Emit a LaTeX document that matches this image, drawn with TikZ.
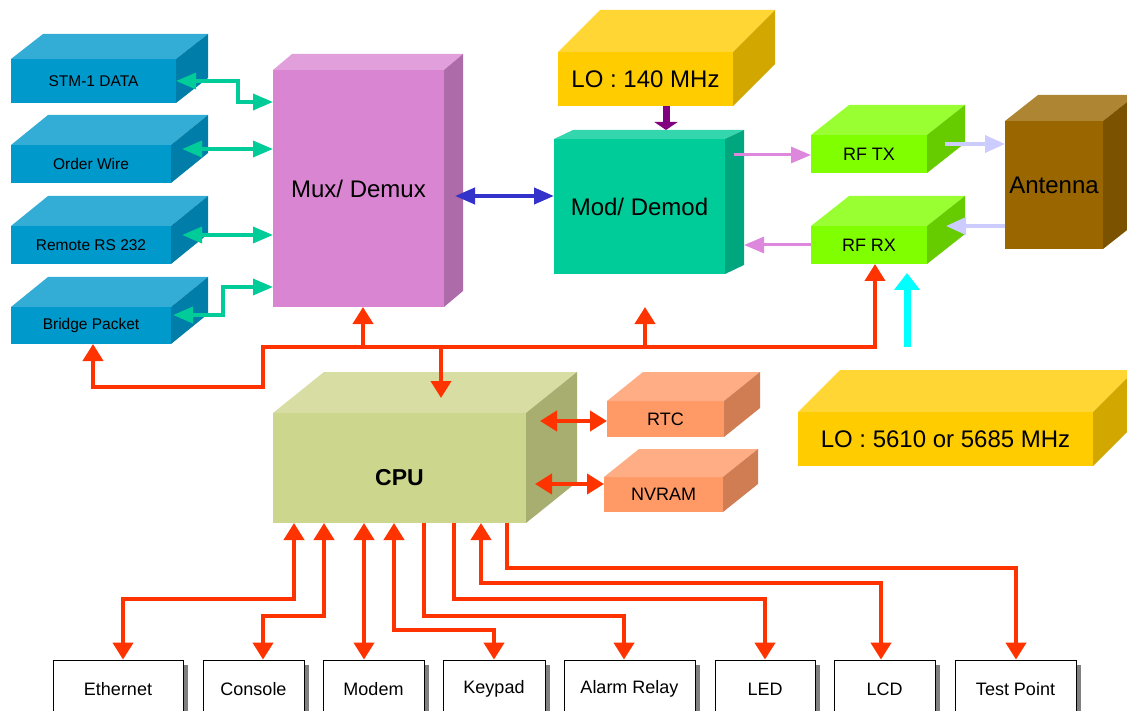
\documentclass[tikz,border=0pt]{standalone}
\usepackage{fontspec}
\setmainfont{Liberation Sans}
\usetikzlibrary{arrows.meta,calc,shadows}

\definecolor{bluefront}{HTML}{0099CC}
\definecolor{bluetop}{HTML}{33ADD6}
\definecolor{blueside}{HTML}{007DA8}
\definecolor{muxfront}{HTML}{D985D1}
\definecolor{muxtop}{HTML}{E1A0DB}
\definecolor{muxside}{HTML}{AD6BAA}
\definecolor{modfront}{HTML}{00CC99}
\definecolor{modtop}{HTML}{33D6AD}
\definecolor{modside}{HTML}{00A67D}
\definecolor{lofront}{HTML}{FFCC00}
\definecolor{lotop}{HTML}{FFD633}
\definecolor{loside}{HTML}{D1A700}
\definecolor{rffront}{HTML}{80FF00}
\definecolor{rftop}{HTML}{99FF33}
\definecolor{rfside}{HTML}{66CC00}
\definecolor{antfront}{HTML}{996600}
\definecolor{anttop}{HTML}{AD8533}
\definecolor{antside}{HTML}{7A5200}
\definecolor{cpufront}{HTML}{CCD68C}
\definecolor{cputop}{HTML}{D7DDA3}
\definecolor{cpuside}{HTML}{A8AD70}
\definecolor{memfront}{HTML}{FF9966}
\definecolor{memtop}{HTML}{FFAD85}
\definecolor{memside}{HTML}{D17D54}
\definecolor{busred}{HTML}{FF3300}
\definecolor{linkgreen}{HTML}{00CC99}
\definecolor{linkblue}{HTML}{3333CC}
\definecolor{ifpink}{HTML}{DD88DD}
\definecolor{rflav}{HTML}{CCCCFF}
\definecolor{lopurple}{HTML}{800080}
\definecolor{locyan}{HTML}{00FFFF}

% top and right faces of a block
\newcommand{\boxsides}[4]{%
  \fill[#3] (#1.north west) -- ++(#2) -- ($(#1.north east)+(#2)$) -- (#1.north east) -- cycle;
  \fill[#4] (#1.north east) -- ++(#2) -- ($(#1.south east)+(#2)$) -- (#1.south east) -- cycle;}

\tikzset{
  block/.style={rectangle,inner sep=0pt,outer sep=0pt},
  txtsmall/.style={font=\fontsize{15.5}{18}\selectfont},
  txtmid/.style={font=\fontsize{18}{22}\selectfont},
  txtbig/.style={font=\fontsize{24}{28}\selectfont},
  device/.style={rectangle,draw=black,line width=0.8pt,fill=white,minimum height=58pt,inner sep=0pt,txtmid,
    drop shadow={shadow xshift=5pt,shadow yshift=-5pt,fill=black!50,opacity=1}},
  redline/.style={draw=busred,line width=4pt,>={Triangle[width=20pt,length=17pt]}},
  greenline/.style={draw=linkgreen,line width=3.5pt,>={Triangle[width=16pt,length=20pt]}},
  blueline/.style={draw=linkblue,line width=4pt,>={Triangle[width=16pt,length=20pt]}},
  pinkline/.style={draw=ifpink,line width=3pt,>={Triangle[width=16pt,length=20pt]}},
  lavline/.style={draw=rflav,line width=3.5pt,>={Triangle[width=17pt,length=20pt]}},
}

\begin{document}
\begin{tikzpicture}[x=1pt,y=-1pt]
\useasboundingbox (0,0) rectangle (1127,711);
\clip (0,0) rectangle (1127,711);

% interfaces
\node[block,txtsmall,fill=bluefront,minimum width=165pt,minimum height=44pt] (STM) at (93.5,81) {STM-1 DATA};
\boxsides{STM}{32,-25}{bluetop}{blueside}
\node[block,txtsmall,fill=bluefront,minimum width=160pt,minimum height=38pt] (OW) at (91,164) {Order Wire};
\boxsides{OW}{37,-30}{bluetop}{blueside}
\node[block,txtsmall,fill=bluefront,minimum width=160pt,minimum height=38pt] (RS) at (91,245) {Remote RS 232};
\boxsides{RS}{37,-30}{bluetop}{blueside}
\node[block,txtsmall,fill=bluefront,minimum width=160pt,minimum height=37pt] (BP) at (91,325.5) {Bridge Packet};
\boxsides{BP}{37,-30}{bluetop}{blueside}

% radio chain
\node[block,txtbig,fill=muxfront,minimum width=171pt,minimum height=237pt] (MUX) at (358.5,188.5) {Mux/ Demux};
\boxsides{MUX}{19,-16}{muxtop}{muxside}
\node[block,txtbig,fill=lofront,minimum width=175pt,minimum height=54pt] (LOA) at (645.5,79) {LO : 140 MHz};
\boxsides{LOA}{42,-42}{lotop}{loside}
\node[block,txtbig,fill=modfront,minimum width=171pt,minimum height=135pt] (MOD) at (639.5,206.5) {Mod/ Demod};
\boxsides{MOD}{19,-9}{modtop}{modside}
\node[block,txtmid,fill=rffront,minimum width=116pt,minimum height=38pt] (TX) at (869,154) {RF TX};
\boxsides{TX}{38,-30}{rftop}{rfside}
\node[block,txtmid,fill=rffront,minimum width=116pt,minimum height=38pt] (RX) at (869,245) {RF RX};
\boxsides{RX}{38,-30}{rftop}{rfside}
\node[block,txtbig,fill=antfront,minimum width=98pt,minimum height=128pt] (ANT) at (1054,185) {Antenna};
\boxsides{ANT}{33,-26}{anttop}{antside}
\node[block,txtbig,fill=lofront,minimum width=295pt,minimum height=54pt] (LOB) at (945.5,439) {LO : 5610 or 5685 MHz};
\boxsides{LOB}{42,-42}{lotop}{loside}

% controller
\node[block,font=\fontsize{23}{28}\selectfont\bfseries,text height=36pt,fill=cpufront,minimum width=253pt,minimum height=110pt] (CPU) at (399.5,468) {CPU};
\boxsides{CPU}{51,-41}{cputop}{cpuside}
\node[block,txtmid,fill=memfront,minimum width=117pt,minimum height=36pt] (RTC) at (665.5,419) {RTC};
\boxsides{RTC}{36,-29}{memtop}{memside}
\node[block,txtmid,fill=memfront,minimum width=119pt,minimum height=35pt] (NV) at (663.5,494.5) {NVRAM};
\boxsides{NV}{35,-28}{memtop}{memside}

% peripherals
\node[device,minimum width=130pt] (ETH) at (118,689) {Ethernet};
\node[device,minimum width=101pt] (CON) at (253.5,689) {Console};
\node[device,minimum width=101pt] (MDM) at (373.5,689) {Modem};
\node[device,minimum width=102pt] (KEY) at (494,689) {Keypad};
\node[device,minimum width=131pt] (ALR) at (629.5,689) {Alarm Relay};
\node[device,minimum width=100pt] (LED) at (765,689) {LED};
\node[device,minimum width=101pt] (LCD) at (884.5,689) {LCD};
\node[device,minimum width=121pt] (TP) at (1015.5,689) {Test Point};

\coordinate (BUS) at (0,347);
\coordinate (MODIN) at (645,307);
\coordinate (CPUIN) at (441,398);
\coordinate (LOOUT) at (907,347);
\coordinate (RXIN) at (907,273);

% data links
\draw[greenline,<->] (STM.east) -| (238,102) -- (MUX.west |- 0,102);
\draw[greenline,<->] ($(OW.east |- 0,149)+(11,0)$) -- (MUX.west |- 0,149);
\draw[greenline,<->] ($(RS.east |- 0,235)+(11,0)$) -- (MUX.west |- 0,235);
\draw[greenline,<->] ($(BP.east |- 0,315)+(2,0)$) -| (223,287) -- (MUX.west |- 0,287);
\draw[blueline,<->] ($(MUX.east |- 0,196)+(11,0)$) -- (MOD.west |- 0,196);
\draw[draw=lopurple,line width=7pt,-{Triangle[width=23pt,length=8pt]}] (LOA.south -| 666,0) -- ($(MOD.north -| 666,0)+(0,-9)$);
\draw[pinkline,->] ($(MOD.east |- 0,155)+(9,0)$) -- (TX.west |- 0,155);
\draw[pinkline,->] (RX.west |- 0,245) -- ($(MOD.east |- 0,245)+(19,0)$);
\draw[lavline,->] ($(TX.east |- 0,144)+(18,0)$) -- (ANT.west |- 0,144);
\draw[lavline,->] (ANT.west |- 0,226) -- ($(RX.east |- 0,226)+(19,0)$);
\draw[draw=locyan,line width=7pt,-{Triangle[width=25pt,length=17pt]}] (LOOUT) -- (RXIN);

% control bus
\draw[redline,<->] (BP.south -| 93,0) |- (263,387) -- (263,347) -| (RX.south -| 875,0);
\draw[redline,->] (BUS -| 363,0) -- (MUX.south -| 363,0);
\draw[redline,->] (BUS -| 441,0) -- (CPUIN);
\draw[redline,->] (BUS -| 645,0) -- (MODIN);
\draw[redline,<->] ($(CPU.east |- 0,421)+(14,0)$) -- (RTC.west |- 0,421);
\draw[redline,<->] ($(CPU.east |- 0,484)+(9,0)$) -- (NV.west |- 0,484);

% peripheral lines
\draw[redline,<->] (CPU.south -| 294,0) -- (294,599) -| (ETH.north -| 123,0);
\draw[redline,<->] (CPU.south -| 324,0) -- (324,616) -| (CON.north -| 263,0);
\draw[redline,<->] (CPU.south -| 364,0) -- (MDM.north -| 364,0);
\draw[redline,<->] (CPU.south -| 394,0) -- (394,630) -| (KEY.north);
\draw[redline,->] (CPU.south -| 424,0) -- (424,616) -| (ALR.north -| 624,0);
\draw[redline,->] (CPU.south -| 454,0) -- (454,599) -| (LED.north);
\draw[redline,<->] (CPU.south -| 481,0) -- (481,583) -| (LCD.north -| 881,0);
\draw[redline,->] (CPU.south -| 507,0) -- (507,568) -| (TP.north -| 1016,0);
\end{tikzpicture}
\end{document}
